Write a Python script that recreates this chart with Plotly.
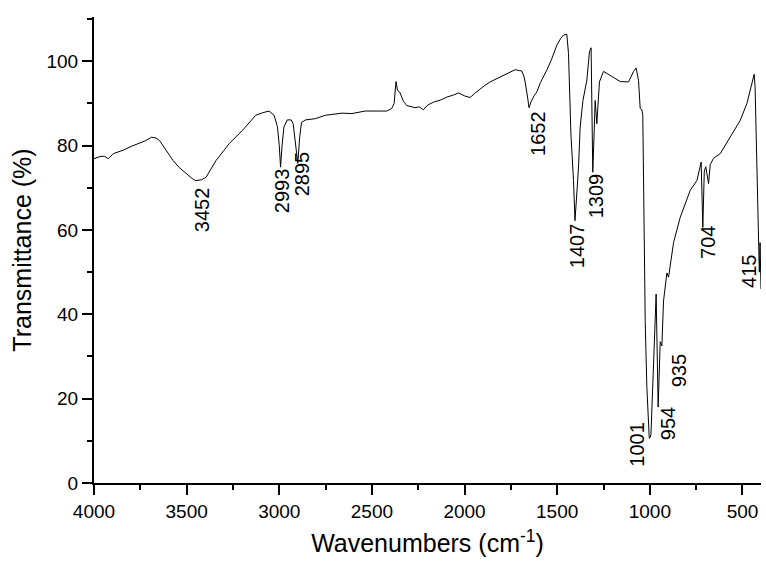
import plotly.graph_objects as go

# ---- data ----
wavenumber = [4000, 3968, 3945, 3923, 3896, 3843, 3800, 3771, 3720, 3690, 3665, 3646, 3610, 3574,
              3540, 3502, 3470, 3452, 3420, 3395, 3341, 3300, 3270, 3199, 3127, 3090, 3055, 3028,
              3010, 3000, 2993, 2985, 2975, 2957, 2936, 2925, 2912, 2900, 2890, 2880, 2858, 2805,
              2751, 2700, 2662, 2608, 2536, 2450, 2420, 2393, 2380, 2370, 2362, 2350, 2330, 2312,
              2290, 2267, 2245, 2222, 2200, 2168, 2130, 2096, 2060, 2033, 2000, 1970, 1945, 1916,
              1890, 1862, 1830, 1790, 1760, 1727, 1705, 1691, 1680, 1673, 1660, 1652, 1640, 1625,
              1610, 1590, 1556, 1530, 1502, 1480, 1466, 1448, 1439, 1426, 1412, 1404, 1392, 1385,
              1376, 1361, 1340, 1326, 1317, 1313, 1308, 1300, 1295, 1286, 1272, 1250, 1214, 1160,
              1115, 1088, 1074, 1061, 1052, 1043, 1038, 1025, 1016, 1007, 1003, 998, 994, 966,
              955, 944, 935, 926, 908, 899, 890, 872, 836, 782, 746, 728, 723, 714, 706, 698,
              690, 683, 674, 656, 620, 566, 512, 476, 437, 432, 413, 409, 405, 400]
transmittance = [76.9, 77.4, 77.5, 76.9, 78.1, 78.9, 79.8, 80.3, 81.2, 82.0, 81.8, 81.2, 79.0, 76.5,
                 74.8, 73.3, 72.2, 71.7, 71.9, 72.5, 76.5, 78.8, 80.5, 83.6, 87.2, 87.8, 88.2, 87.2,
                 84.5, 80.0, 74.9, 80.0, 84.4, 86.1, 86.1, 85.2, 80.0, 75.8, 82.0, 85.5, 86.1, 86.4,
                 87.2, 87.5, 87.7, 87.6, 88.2, 88.2, 88.2, 88.8, 90.0, 95.2, 93.1, 92.7, 90.5, 89.5,
                 89.3, 89.0, 89.2, 88.5, 89.6, 90.3, 90.8, 91.5, 92.0, 92.5, 91.8, 91.4, 92.4, 93.5,
                 94.3, 95.1, 95.8, 96.7, 97.4, 98.0, 97.8, 97.7, 96.5, 95.1, 91.5, 89.0, 90.5, 91.8,
                 92.7, 95.0, 97.9, 100.5, 103.8, 105.5, 106.2, 106.4, 101.8, 82.8, 71.7, 62.2, 70.0, 74.9,
                 84.4, 90.7, 95.5, 102.2, 103.2, 85.0, 73.7, 84.0, 90.7, 85.2, 95.1, 97.6, 96.7, 95.2,
                 95.1, 97.6, 98.4, 95.5, 88.8, 88.5, 87.2, 38.5, 22.6, 11.0, 10.6, 10.8, 11.5, 44.8,
                 18.0, 33.5, 32.5, 43.2, 49.8, 48.8, 51.5, 57.0, 63.0, 69.4, 71.7, 75.7, 76.1, 60.6, 74.0, 75.0,
                 73.0, 71.0, 75.5, 77.0, 78.1, 82.0, 86.0, 90.0, 96.9, 94.0, 57.2, 50.0, 57.0, 46.0]

peak_labels = ["3452", "2993", "2895", "1652", "1407", "1309", "1001", "954", "935", "704", "415"]
# label placement (layout): centre of each rotated label in data coordinates
label_x = [3417, 2985, 2877, 1603, 1392, 1290, 1074, 901, 842, 690, 469]
label_y = [64.7, 69.2, 73.2, 82.8, 56.2, 68.0, 9.1, 14.0, 26.5, 57.0, 50.1]

x_ticks = [4000, 3500, 3000, 2500, 2000, 1500, 1000, 500]
y_ticks = [0, 20, 40, 60, 80, 100]

FONT = "Arial, 'Liberation Sans', sans-serif"

fig = go.Figure()
fig.add_trace(go.Scatter(x=wavenumber, y=transmittance, mode="lines",
                         line=dict(color="black", width=1), showlegend=False))

for t, lx, ly in zip(peak_labels, label_x, label_y):
    fig.add_annotation(x=lx, y=ly, xref="x", yref="y", text=t, showarrow=False,
                       textangle=-90, xanchor="center", yanchor="middle",
                       font=dict(family=FONT, size=20, color="black"))

axis_common = dict(showline=True, linecolor="black", linewidth=2, ticks="outside",
                   ticklen=10, tickwidth=2, tickcolor="black", showgrid=False, zeroline=False,
                   mirror=False, tickfont=dict(family=FONT, size=19, color="black"))

fig.update_xaxes(range=[4000, 400], tickvals=x_ticks, ticktext=[str(v) for v in x_ticks],
                 minor=dict(ticks="outside", ticklen=5, tickwidth=2, tickcolor="black",
                            tickvals=[3750, 3250, 2750, 2250, 1750, 1250, 750]),
                 title=dict(text="Wavenumbers (cm<sup>-1</sup>)",
                            font=dict(family=FONT, size=25, color="black"), standoff=14),
                 **axis_common)
fig.update_yaxes(range=[0, 110.5], tickvals=y_ticks, ticktext=[str(v) for v in y_ticks],
                 minor=dict(ticks="outside", ticklen=5, tickwidth=2, tickcolor="black",
                            tickvals=[10, 30, 50, 70, 90, 110]),
                 title=dict(text="Transmittance (%)",
                            font=dict(family=FONT, size=25, color="black"), standoff=8),
                 **axis_common)

fig.update_layout(width=766, height=570, margin=dict(l=94, r=5, t=17, b=87),
                  plot_bgcolor="white", paper_bgcolor="white",
                  font=dict(family=FONT, color="black"))

fig.write_html("out.html")
